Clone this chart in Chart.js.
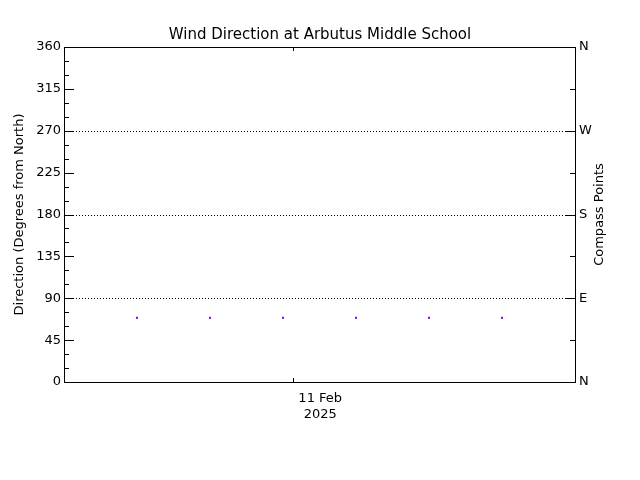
<!DOCTYPE html>
<html>
<head>
<meta charset="utf-8">
<script src="https://cdn.jsdelivr.net/npm/chart.js@4.4.1/dist/chart.umd.min.js"></script>
<style>
html,body{margin:0;padding:0;background:#fff;}
#wrap{width:640px;height:480px;}
</style>
</head>
<body>
<div id="wrap"><canvas id="c" width="640" height="480"></canvas></div>
<script>
// Data (hours relative to 11 Feb 2025 00:00)
const titleText = 'Wind Direction at Arbutus Middle School';
const pointHours = [-2.14, -1.14, -0.14, 0.86, 1.86, 2.86];
const directions = [69, 69, 69, 69, 69, 69];
const xRange = [-3.14, 3.86];
const dateTickHours = [0];
const dateTickLabels = [['11 Feb', '2025']];
const leftTicks = [0, 45, 90, 135, 180, 225, 270, 315, 360];
const compassValues = [0, 90, 180, 270, 360];
const compassLabels = ['N', 'E', 'S', 'W', 'N'];
const dottedLines = [90, 180, 270];
const rightTitle = 'Compass Points';

const FONT = 'DejaVu Sans';

const axisDecor = {
  id: 'axisDecor',
  beforeDatasetsDraw(chart) {
    const ctx = chart.ctx;
    const a = chart.chartArea;
    const y = chart.scales.y, x = chart.scales.x;
    ctx.save();
    ctx.strokeStyle = '#000';
    ctx.lineWidth = 1;
    ctx.setLineDash([1, 2]);
    dottedLines.forEach(v => {
      const py = Math.round(y.getPixelForValue(v)) + 0.5;
      ctx.beginPath(); ctx.moveTo(a.left, py); ctx.lineTo(a.right, py); ctx.stroke();
    });
    ctx.setLineDash([]);
    ctx.strokeRect(Math.round(a.left) + 0.5, Math.round(a.top) + 0.5, Math.round(a.right - a.left), Math.round(a.bottom - a.top));
    for (let v = 0; v <= 360; v += 15) {
      const py = Math.round(y.getPixelForValue(v)) + 0.5;
      const len = (v % 45 === 0) ? 10 : 5;
      ctx.beginPath(); ctx.moveTo(a.left, py); ctx.lineTo(a.left + len, py); ctx.stroke();
    }
    for (let v = 0; v <= 360; v += 45) {
      const py = Math.round(y.getPixelForValue(v)) + 0.5;
      const len = (v % 90 === 0) ? 10 : 5;
      ctx.beginPath(); ctx.moveTo(a.right, py); ctx.lineTo(a.right - len, py); ctx.stroke();
    }
    dateTickHours.forEach(h => {
      const px = Math.round(x.getPixelForValue(h)) + 0.5;
      ctx.beginPath(); ctx.moveTo(px, a.bottom); ctx.lineTo(px, a.bottom - 4); ctx.stroke();
      ctx.beginPath(); ctx.moveTo(px, a.top); ctx.lineTo(px, a.top + 4); ctx.stroke();
    });
    // right-hand axis title, reading bottom to top
    const y2 = chart.scales.y2;
    ctx.translate(y2.right - 40, (a.top + a.bottom) / 2);
    ctx.rotate(-Math.PI / 2);
    ctx.fillStyle = '#000';
    ctx.font = '13px "' + FONT + '"';
    ctx.textAlign = 'center';
    ctx.textBaseline = 'middle';
    ctx.fillText(rightTitle, 0, 0);
    ctx.restore();
  }
};

new Chart(document.getElementById('c'), {
  type: 'scatter',
  data: {
    datasets: [{
      data: pointHours.map((h, i) => ({ x: h, y: directions[i] })),
      backgroundColor: '#8000ff',
      borderColor: '#8000ff',
      pointStyle: 'rect',
      pointRadius: 1.42,
      borderWidth: 0,
      showLine: false
    }]
  },
  options: {
    responsive: false,
    animation: false,
    events: [],
    layout: { padding: 0 },
    plugins: {
      legend: { display: false },
      tooltip: { enabled: false },
      title: {
        display: true,
        text: titleText,
        color: '#000',
        font: { family: FONT, size: 15, weight: 'normal', lineHeight: 1.2 },
        padding: { top: 26, bottom: 3 }
      }
    },
    scales: {
      x: {
        type: 'linear',
        min: xRange[0], max: xRange[1],
        afterBuildTicks: s => { s.ticks = dateTickHours.map(v => ({ value: v })); },
        afterFit: s => { s.height = 98; },
        grid: { display: false, drawTicks: false },
        border: { display: false },
        ticks: {
          color: '#000',
          padding: 9,
          maxRotation: 0,
          autoSkip: false,
          labelOffset: 27,
          font: { family: FONT, size: 13 },
          callback: (v) => { const i = dateTickHours.indexOf(v); return i >= 0 ? dateTickLabels[i] : ''; }
        }
      },
      y: {
        position: 'left',
        min: 0, max: 360,
        afterBuildTicks: s => { s.ticks = leftTicks.map(v => ({ value: v })); },
        afterFit: s => { s.width = 64; },
        grid: { display: false, drawTicks: false },
        border: { display: false },
        ticks: { color: '#000', padding: 3, font: { family: FONT, size: 13 } },
        title: {
          display: true,
          text: 'Direction (Degrees from North)',
          color: '#000',
          font: { family: FONT, size: 13 },
          padding: { top: 12, bottom: 0 }
        }
      },
      y2: {
        position: 'right',
        min: 0, max: 360,
        afterBuildTicks: s => { s.ticks = compassValues.map(v => ({ value: v })); },
        afterFit: s => { s.width = 65; },
        grid: { display: false, drawTicks: false },
        border: { display: false },
        ticks: {
          color: '#000', padding: 4, font: { family: FONT, size: 13 },
          callback: (v) => { const i = compassValues.indexOf(v); return i >= 0 ? compassLabels[i] : ''; }
        }
      }
    }
  },
  plugins: [axisDecor]
});
</script>
</body>
</html>
